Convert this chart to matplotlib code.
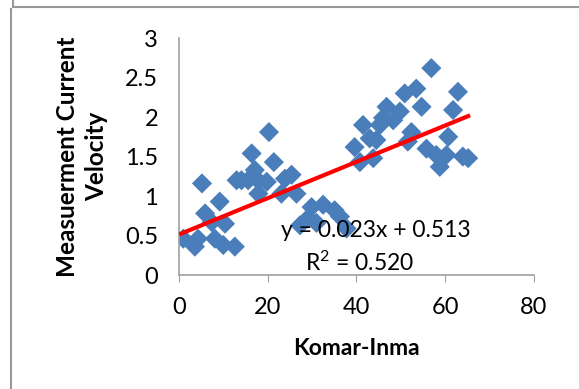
import matplotlib
matplotlib.use("Agg")
import matplotlib.pyplot as plt
from matplotlib.lines import Line2D

komar_inma = [1.0, 3.6, 4.3, 5.2, 5.9, 7.4, 8.1, 9.2, 10.0, 10.4, 12.6, 13.0, 14.1,
              15.6, 16.4, 17.1, 17.9, 18.2, 19.8, 20.3, 21.4, 23.1, 23.9, 25.4, 26.5,
              27.3, 29.1, 29.9, 31.0, 32.5, 35.1, 36.3, 37.8,
              39.6, 40.8, 41.5, 43.0, 43.8, 44.5, 45.3, 46.0, 46.8, 48.3, 49.8, 50.9,
              51.6, 52.4, 53.5, 54.7, 55.8, 56.9, 58.0, 58.8, 60.3, 60.7, 61.8, 62.9,
              64.0, 65.2]
velocity = [0.46, 0.36, 0.46, 1.16, 0.78, 0.67, 0.46, 0.93, 0.38, 0.65, 0.36, 1.20, 1.20,
            1.20, 1.54, 1.33, 1.03, 1.18, 1.18, 1.81, 1.43, 1.03, 1.22, 1.27, 1.03,
            0.63, 0.72, 0.86, 0.66, 0.89, 0.82, 0.74, 0.59,
            1.62, 1.43, 1.90, 1.73, 1.48, 1.71, 1.90, 1.99, 2.13, 1.96, 2.07, 2.30,
            1.69, 1.81, 2.36, 2.13, 1.60, 2.62, 1.52, 1.37, 1.52, 1.75, 2.09, 2.32,
            1.50, 1.48]

# trendline reported on the chart
slope = 0.023
intercept = 0.513
r2 = 0.520

plt.rcParams['font.family'] = ['Lato', 'DejaVu Sans']
# mathtext in the same face, so R^2 matches the rest
plt.rcParams['mathtext.fontset'] = 'custom'
plt.rcParams['mathtext.rm'] = 'Lato'
plt.rcParams['mathtext.it'] = 'Lato'
plt.rcParams['mathtext.bf'] = 'Lato:bold'

fig = plt.figure(figsize=(5.79, 3.89), dpi=100)
ax = fig.add_axes([0.309, 0.293, 0.613, 0.609])

ax.scatter(komar_inma, velocity, marker='D', s=105, color='#4a7ebb',
           edgecolors='none', zorder=2)

# linear trendline across the data range
x0, x1 = 0.5, max(komar_inma)
ax.plot([x0, x1], [intercept + slope * x0, intercept + slope * x1],
        color='#ff0000', lw=3, zorder=3)

ax.text(0.555, 0.19, f"y = {slope:.3f}x + {intercept:.3f}", transform=ax.transAxes,
        fontsize=16.5, va='center', ha='center', zorder=4)
ax.text(0.51, 0.05, "R$^{2}$" + f" = {r2:.3f}", transform=ax.transAxes,
        fontsize=16.5, va='center', ha='center', zorder=4)

ax.set_xlim(0, 80)
ax.set_ylim(0, 3)
ax.set_xticks([0, 20, 40, 60, 80])
ax.set_yticks([0, 0.5, 1, 1.5, 2, 2.5, 3])
ax.set_yticklabels(['0', '0.5', '1', '1.5', '2', '2.5', '3'])

for side in ['top', 'right']:
    ax.spines[side].set_visible(False)
for side in ['left', 'bottom']:
    ax.spines[side].set_color('#a0a0a0')
    ax.spines[side].set_linewidth(1.2)

ax.tick_params(axis='x', direction='out', length=5, color='#a0a0a0', labelsize=17, pad=11)
ax.tick_params(axis='y', length=0, labelsize=17, pad=15)

ax.set_xlabel('Komar-Inma', fontsize=16.5, fontweight='bold', labelpad=14)
ax.set_ylabel('Measuerment Current\nVelocity', fontsize=17.5, fontweight='bold',
              labelpad=12, linespacing=1.35)

# chart frame from the screenshot
fig.add_artist(Line2D([11/579, 11/579], [0, 1 - 9/389], color='#999999', lw=1.5))
fig.add_artist(Line2D([13/579, 1], [1 - 7/389, 1 - 7/389], color='#999999', lw=1.5))
fig.add_artist(Line2D([13/579, 13/579], [1 - 7/389, 1], color='#999999', lw=1.5))

fig.savefig('out.png', dpi=100)
